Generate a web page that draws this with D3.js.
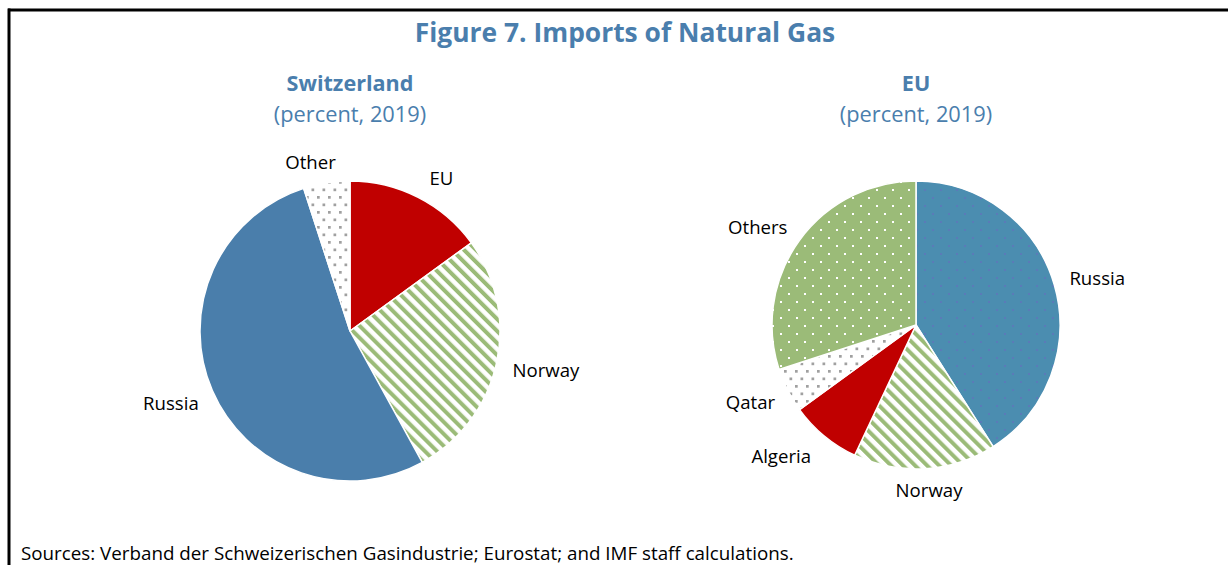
<!DOCTYPE html>
<html>
<head>
<meta charset="utf-8">
<script src="https://cdn.jsdelivr.net/npm/d3@7"></script>
<style>
  html, body { margin: 0; padding: 0; background: #fff; }
  svg { display: block; font-family: "Open Sans", "Noto Sans", sans-serif; }
</style>
</head>
<body>
<svg id="chart" width="1228" height="565"></svg>
<script>
// Natural gas import shares, percent, 2019
const swissCategories = ["EU", "Norway", "Russia", "Other"];
const swissValues = [15, 27, 53, 5];

const euCategories = ["Russia", "Norway", "Algeria", "Qatar", "Others"];
const euValues = [41, 16, 8, 5, 30];

const titleText = "Figure 7. Imports of Natural Gas";
const subtitleText = "(percent, 2019)";
const sourceText = "Sources: Verband der Schweizerischen Gasindustrie; Eurostat; and IMF staff calculations.";

const W = 1228, H = 565;
const svg = d3.select("#chart");
const defs = svg.append("defs");

const titleBlue = "#4a7ead";
const green = "#9bbb78";

// fill patterns
function dotPattern(id, w, h, bg, dot, size) {
  const p = defs.append("pattern").attr("id", id)
    .attr("patternUnits", "userSpaceOnUse").attr("width", w).attr("height", h);
  p.append("rect").attr("width", w).attr("height", h).attr("fill", bg);
  p.append("rect").attr("x", 0).attr("y", 0).attr("width", size).attr("height", size).attr("fill", dot);
  p.append("rect").attr("x", w / 2).attr("y", h / 2).attr("width", size).attr("height", size).attr("fill", dot);
}
dotPattern("greyDots", 11, 15, "#ffffff", "#a0a0a0", 2.7);
dotPattern("greenDots", 16, 16, green, "#ffffff", 2);
dotPattern("blueDots", 16, 16, "#4b8db0", "#5a7bb8", 2);

const stripes = defs.append("pattern").attr("id", "greenStripes")
  .attr("patternUnits", "userSpaceOnUse").attr("width", 8.5).attr("height", 8.5)
  .attr("patternTransform", "rotate(-45)");
stripes.append("rect").attr("width", 8.5).attr("height", 8.5).attr("fill", "#ffffff");
stripes.append("rect").attr("width", 4).attr("height", 8.5).attr("fill", green);

// frame
svg.append("line").attr("x1", 8).attr("x2", W).attr("y1", 10).attr("y2", 10)
  .attr("stroke", "#000").attr("stroke-width", 3);
svg.append("line").attr("x1", 9).attr("x2", 9).attr("y1", 8.5).attr("y2", H)
  .attr("stroke", "#000").attr("stroke-width", 3);

svg.append("text").attr("x", 625).attr("y", 42).attr("text-anchor", "middle")
  .attr("font-size", 26.4).attr("font-weight", 700).attr("fill", titleBlue).text(titleText);

svg.append("text").attr("x", 21).attr("y", 560)
  .attr("font-size", 18.8).attr("fill", "#000").text(sourceText);

function drawPie(cfg) {
  const g = svg.append("g").attr("transform", `translate(${cfg.cx},${cfg.cy})`);
  svg.append("text").attr("x", cfg.cx).attr("y", 91).attr("text-anchor", "middle")
    .attr("font-size", 21.6).attr("font-weight", 700).attr("fill", titleBlue).text(cfg.name);
  svg.append("text").attr("x", cfg.cx).attr("y", 122).attr("text-anchor", "middle")
    .attr("font-size", 21.8).attr("fill", titleBlue).text(subtitleText);

  const data = cfg.categories.map((c, i) => ({ name: c, value: cfg.values[i] }));
  const pie = d3.pie().sort(null).value(d => d.value);
  const arc = d3.arc().innerRadius(0).outerRadius(cfg.r);
  const arcs = pie(data);

  g.selectAll("path.slice").data(arcs).join("path")
    .attr("class", "slice")
    .attr("d", arc)
    .attr("fill", d => cfg.fills[d.data.name])
    .attr("stroke", "#fff").attr("stroke-width", 1.5).attr("stroke-linejoin", "round");

  g.selectAll("text.lbl").data(arcs).join("text")
    .attr("class", "lbl")
    .attr("transform", d => {
      const [deg, rad] = cfg.labels[d.data.name];
      const a = deg * Math.PI / 180;
      return `translate(${rad * Math.sin(a)},${-rad * Math.cos(a)})`;
    })
    .attr("text-anchor", "middle").attr("dy", "0.35em")
    .attr("font-size", 18.6).attr("fill", "#000")
    .text(d => d.data.name);
}

drawPie({
  name: "Switzerland", cx: 350, cy: 331, r: 150,
  categories: swissCategories, values: swissValues,
  fills: { EU: "#c00000", Norway: "url(#greenStripes)", Russia: "#4a7eab", Other: "url(#greyDots)" },
  // label placement: [angle clockwise from top in degrees, distance from centre]
  labels: { Other: [346.8, 173], EU: [30.9, 178], Norway: [101.5, 200], Russia: [248.1, 193] }
});

drawPie({
  name: "EU", cx: 916, cy: 325, r: 144,
  categories: euCategories, values: euValues,
  fills: { Russia: "url(#blueDots)", Norway: "url(#greenStripes)", Algeria: "#c00000", Qatar: "url(#greyDots)", Others: "url(#greenDots)" },
  labels: { Russia: [75.7, 187], Norway: [175.5, 166], Algeria: [225.8, 188], Qatar: [244.8, 183], Others: [301.7, 186] }
});
</script>
</body>
</html>
